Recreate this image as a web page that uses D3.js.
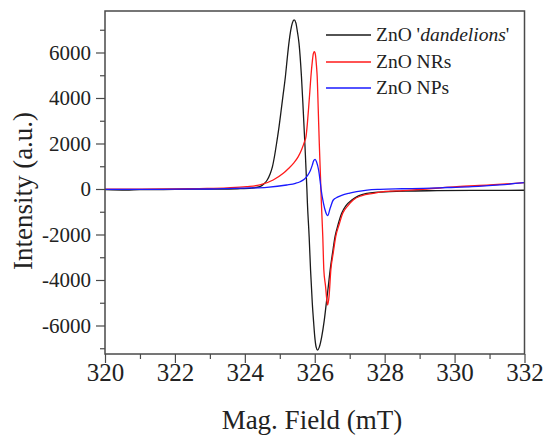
<!DOCTYPE html>
<html>
<head>
<meta charset="utf-8">
<script src="https://cdn.jsdelivr.net/npm/d3@7/dist/d3.min.js"></script>
<style>
  html, body { margin: 0; padding: 0; background: #fff; }
  svg { display: block; }
  svg text { font-family: "Liberation Serif", "Times New Roman", serif; fill: #222; }
</style>
</head>
<body>
<svg id="chart" width="545" height="435"></svg>
<script>
// EPR spectra: magnetic field (mT) vs. intensity (a.u.)
const dandelionsField = [320.0, 320.6, 321.0, 322.0, 323.0, 323.8, 324.2, 324.43, 324.55, 324.64, 324.72, 324.79, 324.85, 324.91, 324.98, 325.04, 325.10, 325.16, 325.21, 325.26, 325.31, 325.36, 325.41, 325.46, 325.50, 325.55, 325.62, 325.67, 325.72, 325.775, 325.79, 325.84, 325.88, 325.93, 325.97, 326.00, 326.04, 326.08, 326.13, 326.20, 326.27, 326.33, 326.39, 326.44, 326.51, 326.58, 326.67, 326.77, 326.90, 327.06, 327.25, 327.49, 327.8, 328.15, 328.6, 329.5, 330.5, 331.3, 332.0];
const dandelionsIntensity = [-30, -50, -30, -20, -10, 10, 40, 100, 230, 396, 650, 980, 1450, 2022, 2750, 3473, 4200, 4936, 5700, 6403, 6950, 7300, 7430, 7300, 6950, 6403, 4936, 3473, 1900, 0, -615, -2100, -3560, -5025, -5900, -6490, -6950, -7080, -6950, -6490, -5800, -5025, -4250, -3560, -2800, -2095, -1550, -1070, -720, -484, -300, -190, -140, -110, -90, -75, -65, -60, -55];

const nrsField = [320.0, 321.0, 322.0, 322.7, 323.5, 324.05, 324.43, 324.81, 325.10, 325.25, 325.39, 325.52, 325.62, 325.70, 325.75, 325.79, 325.82, 325.86, 325.89, 325.93, 325.96, 325.99, 326.02, 326.05, 326.07, 326.10, 326.13, 326.16, 326.19, 326.23, 326.26, 326.31, 326.34, 326.37, 326.41, 326.46, 326.53, 326.60, 326.70, 326.80, 326.95, 327.10, 327.35, 327.67, 327.96, 328.52, 329.2, 330.06, 331.0, 332.0];
const nrsIntensity = [-10, -10, 0, 20, 50, 100, 176, 396, 689, 900, 1128, 1400, 1714, 2050, 2300, 2900, 3473, 4300, 4936, 5600, 5950, 6035, 5900, 5400, 4936, 3500, 2000, 700, -630, -2095, -3560, -4290, -4800, -5100, -4700, -3560, -2800, -2095, -1550, -1070, -730, -484, -290, -190, -117, -70, 0, 100, 176, 277];

const npsField = [320.0, 321.0, 322.0, 323.0, 324.0, 324.63, 325.20, 325.45, 325.58, 325.70, 325.77, 325.83, 325.88, 325.93, 325.97, 326.01, 326.05, 326.11, 326.15, 326.18, 326.25, 326.31, 326.37, 326.44, 326.53, 326.65, 326.77, 327.0, 327.20, 327.5, 327.87, 328.5, 329.1, 329.8, 330.5, 331.3, 332.0];
const npsIntensity = [-20, -20, -10, 0, 40, 75, 176, 250, 320, 430, 540, 680, 835, 1050, 1250, 1305, 1200, 835, 400, 0, -630, -1000, -1170, -850, -484, -360, -277, -180, -117, -50, -15, 10, 30, 65, 100, 180, 277];

const seriesNames = ["dandelions", "NRs", "NPs"];
const seriesColors = ["#1a1a1a", "#ff1a1a", "#1a1aff"];

const xTicks = [320, 322, 324, 326, 328, 330, 332];
const xMinorTicks = [321, 323, 325, 327, 329, 331];
const yTicks = [-6000, -4000, -2000, 0, 2000, 4000, 6000];
const yMinorTicks = [-7000, -5000, -3000, -1000, 1000, 3000, 5000, 7000];

const series = [
  { field: dandelionsField, intensity: dandelionsIntensity },
  { field: nrsField, intensity: nrsIntensity },
  { field: npsField, intensity: npsIntensity }
];

const svg = d3.select("#chart");
const plotLeft = 105, plotRight = 524.5, plotTop = 11, plotBottom = 354;
const serif = "'Liberation Serif', 'Times New Roman', serif";

const x = d3.scaleLinear().domain([320, 332]).range([plotLeft, plotRight]);
const y = d3.scaleLinear().domain([-7253, 7824]).range([plotBottom, plotTop]);

const frameColor = "#4a4a4a";
// plain hyphen for negative numbers
const tickFmt = d => String(d);

// clip region for the spectra
svg.append("clipPath").attr("id", "plotClip")
  .append("rect")
  .attr("x", plotLeft).attr("y", plotTop)
  .attr("width", plotRight - plotLeft).attr("height", plotBottom - plotTop);

const line = d3.line()
  .x(d => x(d[0]))
  .y(d => y(d[1]))
  .curve(d3.curveMonotoneX);

const plot = svg.append("g").attr("clip-path", "url(#plotClip)");
series.forEach((s, i) => {
  const pts = s.field.map((f, k) => [f, s.intensity[k]]);
  plot.append("path")
    .datum(pts)
    .attr("fill", "none")
    .attr("stroke", seriesColors[i])
    .attr("stroke-width", 1.3)
    .attr("d", line);
});

// axes with major and minor ticks
const xAxis = svg.append("g").attr("transform", `translate(0,${plotBottom})`)
  .call(d3.axisBottom(x).tickValues(xTicks).tickSize(9).tickPadding(0).tickFormat(tickFmt));
svg.append("g").attr("transform", `translate(0,${plotBottom})`)
  .call(d3.axisBottom(x).tickValues(xMinorTicks).tickSize(5).tickFormat(""));

const yAxis = svg.append("g").attr("transform", `translate(${plotLeft},0)`)
  .call(d3.axisLeft(y).tickValues(yTicks).tickSize(9).tickPadding(5).tickFormat(tickFmt));
svg.append("g").attr("transform", `translate(${plotLeft},0)`)
  .call(d3.axisLeft(y).tickValues(yMinorTicks).tickSize(5).tickFormat(""));

svg.selectAll("g").attr("font-family", null).attr("font-size", null);
svg.selectAll(".tick line").attr("stroke", frameColor).attr("stroke-width", 1.2);
svg.selectAll(".domain").remove();

xAxis.selectAll(".tick text")
  .attr("font-family", serif)
  .attr("font-size", 25).attr("fill", "#222");
yAxis.selectAll(".tick text")
  .attr("font-family", serif)
  .attr("font-size", 21).attr("fill", "#222");

// plot frame
svg.append("rect")
  .attr("x", plotLeft).attr("y", plotTop)
  .attr("width", plotRight - plotLeft).attr("height", plotBottom - plotTop)
  .attr("fill", "none").attr("stroke", frameColor).attr("stroke-width", 1.5);

// axis titles
svg.append("text")
  .attr("x", 312).attr("y", 429)
  .attr("text-anchor", "middle")
  .attr("font-family", serif)
  .attr("font-size", 27)
  .text("Mag. Field (mT)");

svg.append("text")
  .attr("transform", "translate(32,191) rotate(-90)")
  .attr("text-anchor", "middle")
  .attr("font-family", serif)
  .attr("font-size", 27)
  .text("Intensity (a.u.)");

// legend
const legend = svg.append("g");
const legendY = [35, 62, 88];
series.forEach((s, i) => {
  legend.append("line")
    .attr("x1", 326).attr("x2", 371)
    .attr("y1", legendY[i]).attr("y2", legendY[i])
    .attr("stroke", seriesColors[i]).attr("stroke-width", 1.3);
  const t = legend.append("text")
    .attr("x", 376).attr("y", legendY[i] + 6)
    .attr("font-family", serif)
    .attr("font-size", 19.5);
  if (i === 0) {
    t.append("tspan").text("ZnO '");
    t.append("tspan").attr("font-style", "italic").text(seriesNames[i]);
    t.append("tspan").text("'");
  } else {
    t.text("ZnO " + seriesNames[i]);
  }
});
</script>
</body>
</html>
